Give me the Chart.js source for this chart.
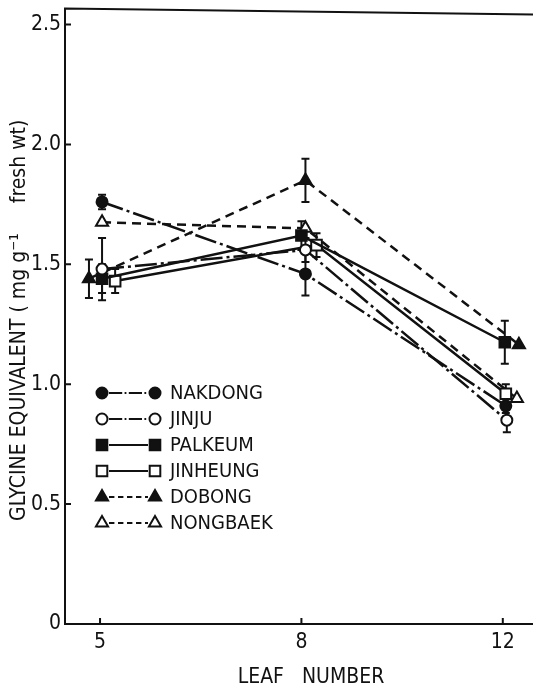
<!DOCTYPE html>
<html>
<head>
<meta charset="utf-8">
<script src="https://cdn.jsdelivr.net/npm/chart.js@4.4.1/dist/chart.umd.min.js"></script>
<style>
  html, body { margin: 0; padding: 0; background: #fff; }
  #wrap { width: 533px; height: 690px; }
</style>
</head>
<body>
<div id="wrap"><canvas id="chart" width="533" height="690"></canvas></div>
<script>
'use strict';

// categories and tick labels
const leafNumbers = ['5', '8', '12'];
const yTicks = [0, 0.5, 1.0, 1.5, 2.0, 2.5];

// glycine equivalent (mg g-1 fresh wt)
const nakdong  = [1.76, 1.46, 0.91];
const jinju    = [1.48, 1.56, 0.85];
const palkeum  = [1.44, 1.62, 1.175];
const jinheung = [1.43, 1.58, 0.96];
const dobong   = [1.44, 1.85, 1.165];
const nongbaek = [1.675, 1.65, 0.94];

// +/- error, 0 = no bar drawn
const nakdongErr  = [0.03, 0.09, 0.03];
const jinjuErr    = [0.13, 0.05, 0.05];
const palkeumErr  = [0.06, 0.06, 0.09];
const jinheungErr = [0.05, 0.05, 0.04];
const dobongErr   = [0.08, 0.09, 0];
const nongbaekErr = [0, 0, 0];

const FONT = "'Liberation Sans Narrow', 'DejaVu Sans Condensed', sans-serif";
const INK = '#111';

// style per series; nudge = small sideways shift so overlapping symbols show (as in the print)
let series = [
    { label: 'NAKDONG',  values: nakdong,  err: nakdongErr,  style: 'circle',   filled: true,  dash: [22, 4, 3, 4], radius: 5.5, nudge: [0.01, 0.02, 0.015] },
    { label: 'JINJU',    values: jinju,    err: jinjuErr,    style: 'circle',   filled: false, dash: [22, 4, 3, 4], radius: 5.5, nudge: [0.01, 0.02, 0.02] },
    { label: 'PALKEUM',  values: palkeum,  err: palkeumErr,  style: 'rect',     filled: true,  dash: [],            radius: 7.5, nudge: [0.01, 0.0, 0.01] },
    { label: 'JINHEUNG', values: jinheung, err: jinheungErr, style: 'rect',     filled: false, dash: [],            radius: 7.5, nudge: [0.075, 0.075, 0.015] },
    { label: 'DOBONG',   values: dobong,   err: dobongErr,   style: 'triangle', filled: true,  dash: [9, 6],        radius: 7,   nudge: [-0.055, 0.02, 0.08] },
    { label: 'NONGBAEK', values: nongbaek, err: nongbaekErr, style: 'triangle', filled: false, dash: [9, 6],        radius: 7,   nudge: [0.01, 0.02, 0.07] }
];

let datasets = series.map(function (s) {
    return {
        label: s.label,
        data: s.values.map((v, i) => ({ x: i + s.nudge[i], y: v })),
        borderColor: INK,
        borderWidth: 2.5,
        borderDash: s.dash,
        pointStyle: s.style,
        pointRadius: s.radius,
        pointBorderWidth: 2,
        pointBorderColor: INK,
        pointBackgroundColor: s.filled ? INK : '#fff',
        tension: 0,
        fill: false
    };
});

// vertical error bars with caps, through the chart scales
const errorBars = {
    id: 'errorBars',
    beforeDatasetsDraw(chart) {
        let ctx = chart.ctx, xs = chart.scales.x, ys = chart.scales.y;
        ctx.save();
        ctx.strokeStyle = INK;
        ctx.lineWidth = 2;
        series.forEach(function (s) {
            s.values.forEach(function (v, i) {
                if (!s.err[i]) return;
                let px = xs.getPixelForValue(i + s.nudge[i]);
                let top = ys.getPixelForValue(v + s.err[i]);
                let bot = ys.getPixelForValue(v - s.err[i]);
                ctx.beginPath();
                ctx.moveTo(px, top); ctx.lineTo(px, bot);
                ctx.moveTo(px - 4, top); ctx.lineTo(px + 4, top);
                ctx.moveTo(px - 4, bot); ctx.lineTo(px + 4, bot);
                ctx.stroke();
            });
        });
        ctx.restore();
    }
};

// top frame line (a bit above the last tick, slightly skewed like the scan) and inward tick marks
const frame = {
    id: 'frame',
    afterDraw(chart) {
        let ctx = chart.ctx, a = chart.chartArea;
        ctx.save();
        ctx.strokeStyle = INK;
        ctx.lineWidth = 2;
        ctx.beginPath();
        ctx.moveTo(a.left, a.top + 1); ctx.lineTo(a.left, a.top - 8);
        ctx.lineTo(a.right, a.top - 2);
        chart.scales.y.ticks.forEach(function (t) {
            let py = chart.scales.y.getPixelForValue(t.value);
            ctx.moveTo(a.left, py); ctx.lineTo(a.left + 6, py);
        });
        chart.scales.x.ticks.forEach(function (t) {
            let px = chart.scales.x.getPixelForValue(t.value);
            ctx.moveTo(px, a.bottom); ctx.lineTo(px, a.bottom - 6);
        });
        ctx.stroke();
        ctx.restore();
    }
};

// key inside the plot: symbol - line - symbol, then name
const keyLegend = {
    id: 'keyLegend',
    afterDraw(chart) {
        let ctx = chart.ctx, a = chart.chartArea;
        let x0 = a.left + 37, x1 = a.left + 90, tx = a.left + 105;
        let y0 = 393, step = 26;
        ctx.save();
        series.forEach(function (s, i) {
            let y = y0 + i * step;
            ctx.strokeStyle = INK;
            ctx.lineWidth = 2;
            ctx.setLineDash(s.dash.length ? s.dash.map(d => d * 0.6) : []);
            ctx.beginPath();
            ctx.moveTo(x0 + 7, y); ctx.lineTo(x1 - 7, y);
            ctx.stroke();
            ctx.setLineDash([]);
            [x0, x1].forEach(function (px) {
                ctx.fillStyle = s.filled ? INK : '#fff';
                ctx.strokeStyle = INK;
                ctx.lineWidth = 2;
                Chart.helpers.drawPoint(ctx, { pointStyle: s.style, radius: s.radius, rotation: 0, borderWidth: 2 }, px, y);
            });
            ctx.fillStyle = INK;
            ctx.font = '20px ' + FONT;
            ctx.textAlign = 'left';
            ctx.textBaseline = 'middle';
            ctx.fillText(s.label, tx, y + 1);
        });
        ctx.restore();
    }
};

let chart = new Chart(document.getElementById('chart'), {
    type: 'line',
    data: { datasets: datasets },
    plugins: [errorBars, frame, keyLegend],
    options: {
        responsive: false,
        animation: false,
        devicePixelRatio: 1,
        layout: { autoPadding: false, padding: { top: 5, left: 0, right: 0, bottom: 0 } },
        plugins: { legend: { display: false }, tooltip: { enabled: false } },
        scales: {
            x: {
                type: 'linear',
                min: -0.174,
                max: 2.15,
                afterBuildTicks: s => { s.ticks = leafNumbers.map((_, i) => ({ value: i })); },
                afterFit: s => { s.height = 66; },
                grid: { drawOnChartArea: false, drawTicks: false },
                border: { display: true, color: INK, width: 2 },
                ticks: {
                    color: INK,
                    padding: 6,
                    font: { family: FONT, size: 21 },
                    callback: v => leafNumbers[Math.round(v)]
                },
                title: {
                    display: true,
                    text: '    LEAF   NUMBER',
                    color: INK,
                    font: { family: FONT, size: 21 },
                    padding: { top: 0, bottom: 0 }
                }
            },
            y: {
                min: 0,
                max: 2.533,
                afterBuildTicks: s => { s.ticks = yTicks.map(v => ({ value: v })); },
                afterFit: s => { s.width = 65; },
                grid: { drawOnChartArea: false, drawTicks: false },
                border: { display: true, color: INK, width: 2 },
                ticks: {
                    color: INK,
                    padding: 4,
                    font: { family: FONT, size: 21 },
                    callback: v => (v === 0 ? '0' : v.toFixed(1))
                },
                title: {
                    display: true,
                    text: 'GLYCINE EQUIVALENT ( mg g\u207B\u00B9     fresh wt)',
                    color: INK,
                    font: { family: FONT, size: 21 },
                    padding: { top: 7, bottom: 0 }
                }
            }
        }
    }
});
</script>
</body>
</html>
